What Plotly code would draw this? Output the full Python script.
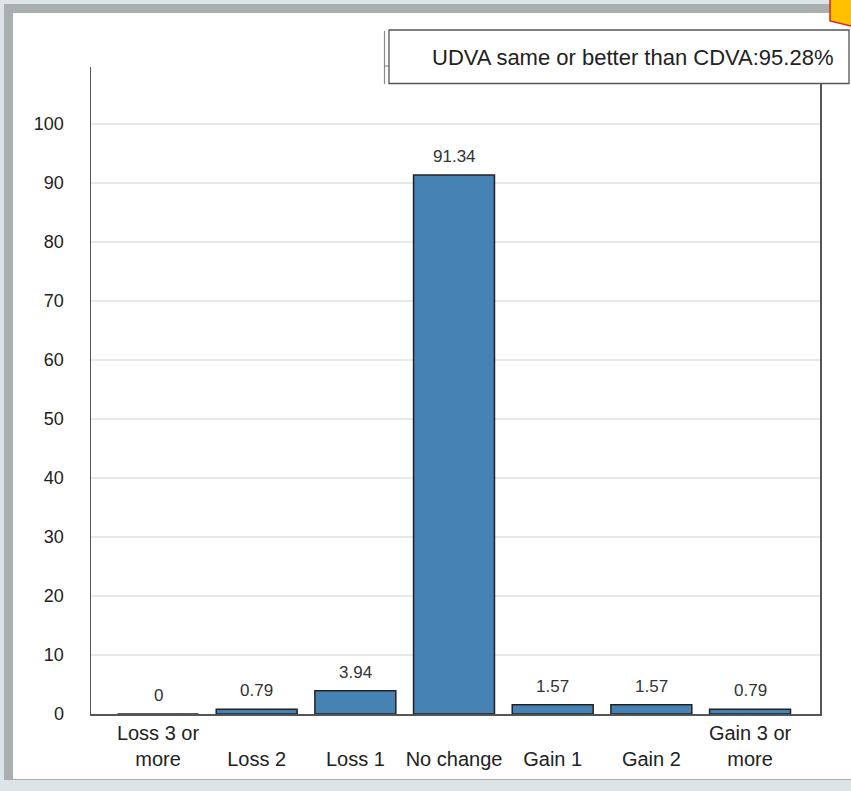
import plotly.graph_objects as go

categories = ["Loss 3 or<br>more", "<br>Loss 2", "<br>Loss 1", "<br>No change",
              "<br>Gain 1", "<br>Gain 2", "Gain 3 or<br>more"]
values = [0, 0.79, 3.94, 91.34, 1.57, 1.57, 0.79]
value_labels = ["0", "0.79", "3.94", "91.34", "1.57", "1.57", "0.79"]
y_ticks = [0, 10, 20, 30, 40, 50, 60, 70, 80, 90, 100]
legend_text = "UDVA same or better than CDVA:95.28%"

W, H = 851, 791
L, R, T, B = 91, 31, 67, 77
PW, PH = W - L - R, H - T - B


def px(x):
    return (x - L) / PW


def py(y):
    return (H - B - y) / PH


FONT = "Liberation Sans, Arial, sans-serif"

fig = go.Figure()
fig.add_trace(go.Bar(
    x=list(range(len(categories))), y=values,
    width=0.82,
    marker=dict(color="#4682b4", line=dict(color="#222222", width=1.5)),
    hoverinfo="skip",
))

for i, (v, t) in enumerate(zip(values, value_labels)):
    fig.add_annotation(x=i, y=v, xref="x", yref="y", text=t, showarrow=False,
                       yanchor="bottom", yshift=7,
                       font=dict(family=FONT, size=17, color="#333333"))

shapes = [
    dict(type="rect", xref="paper", yref="paper", x0=px(-20), x1=px(900), y0=py(-20), y1=py(820),
         fillcolor="#dde4e7", line=dict(width=0), layer="below"),
    dict(type="rect", xref="paper", yref="paper", x0=px(4), x1=px(900), y0=py(4), y1=py(780),
         fillcolor="#a9afaf", line=dict(width=0), layer="below"),
    dict(type="rect", xref="paper", yref="paper", x0=px(13), x1=px(900), y0=py(13), y1=py(779),
         fillcolor="white", line=dict(width=0), layer="below"),
    dict(type="path", xref="paper", yref="paper",
         path=f"M {px(830)},{py(-5)} L {px(830)},{py(21)} L {px(855)},{py(27)} L {px(855)},{py(-5)} Z",
         fillcolor="#ffc000", line=dict(color="#e8201a", width=1.5), layer="above"),
    dict(type="line", xref="paper", yref="paper", x0=px(384.5), x1=px(384.5), y0=py(31), y1=py(84),
         line=dict(color="#888888", width=1.2), layer="above"),
    dict(type="line", xref="paper", yref="paper", x0=px(384.5), x1=px(389), y0=py(66), y1=py(66),
         line=dict(color="#888888", width=1.2), layer="above"),
    dict(type="rect", xref="paper", yref="paper", x0=px(389), x1=px(849), y0=py(30), y1=py(83.5),
         fillcolor="white", line=dict(color="#555555", width=1.3), layer="above"),
]

fig.add_annotation(x=px(430), y=py(57), xref="paper", yref="paper", text=legend_text,
                   showarrow=False, xanchor="left", yanchor="middle",
                   font=dict(family=FONT, size=22, color="#222222"))

fig.update_layout(
    width=W, height=H,
    margin=dict(l=L, r=R, t=T, b=B, pad=0),
    paper_bgcolor="white", plot_bgcolor="white",
    showlegend=False,
    shapes=shapes,
    font=dict(family=FONT, color="#222222"),
)
fig.update_xaxes(
    range=[-0.679, 6.709],
    tickmode="array", tickvals=list(range(len(categories))), ticktext=categories,
    tickfont=dict(family=FONT, size=20, color="#222222"),
    showline=True, linecolor="#555555", linewidth=1.5,
    showgrid=False, ticks="", zeroline=False,
)
fig.update_yaxes(
    range=[0, (H - B - T) / 5.9],
    tickmode="array", tickvals=y_ticks,
    tickfont=dict(family=FONT, size=18, color="#222222"),
    showline=True, mirror=True, linecolor="#555555", linewidth=1.5,
    showgrid=True, gridcolor="#e8e8e8", gridwidth=2,
    ticks="", ticklabelstandoff=22, zeroline=False,
)

fig.write_html("out.html", config={"displayModeBar": False, "staticPlot": True},
               post_script="document.body.style.margin='0';document.body.style.overflow='hidden';")
